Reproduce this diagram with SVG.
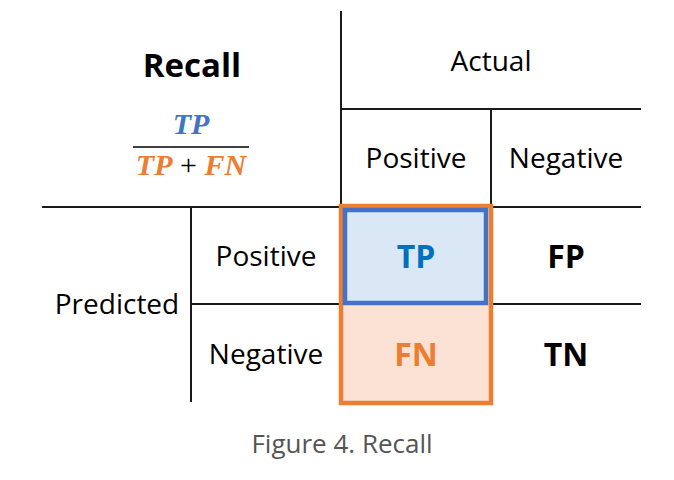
<svg xmlns="http://www.w3.org/2000/svg" width="674" height="480" viewBox="0 0 674 480">
  <style>
    .grid { stroke: #1a1a1a; stroke-width: 2; fill: none; }
    .lbl { font-family: "Open Sans", "Liberation Sans", sans-serif; font-size: 28px; fill: #000; text-anchor: middle; }
    .cell { font-family: "Open Sans", "Liberation Sans", sans-serif; font-size: 32px; font-weight: bold; text-anchor: middle; }
    .math { font-family: "Liberation Serif", "DejaVu Serif", serif; font-size: 30px; font-weight: bold; font-style: italic; }
    .op { font-family: "Liberation Serif", "DejaVu Serif", serif; font-size: 30px; }
    .caption { font-family: "Open Sans", "Liberation Sans", sans-serif; font-size: 26px; fill: #555; text-anchor: middle; }
  </style>
  <rect width="674" height="480" fill="#fff"/>

  <!-- table rules -->
  <g id="connectors">
    <line class="grid" x1="341" y1="11" x2="341" y2="207"/>
    <line class="grid" x1="341" y1="109" x2="641" y2="109"/>
    <line class="grid" x1="491" y1="109" x2="491" y2="207"/>
    <line class="grid" x1="42" y1="207" x2="641" y2="207"/>
    <line class="grid" x1="191" y1="207" x2="191" y2="402"/>
    <line class="grid" x1="191" y1="304" x2="641" y2="304"/>
  </g>

  <!-- title and formula -->
  <g id="title">
    <text x="192" y="77" style="font-family:'Open Sans','Liberation Sans',sans-serif;font-size:33px;font-weight:bold;text-anchor:middle">Recall</text>
  </g>
  <g id="formula">
    <text class="math" x="191" y="134" text-anchor="middle" fill="#4472C4">TP</text>
    <line x1="133" y1="147" x2="249" y2="147" stroke="#000" stroke-width="1.5"/>
    <text x="191" y="175" text-anchor="middle"><tspan class="math" fill="#ED7D31">TP</tspan><tspan class="op" fill="#000"> + </tspan><tspan class="math" fill="#ED7D31">FN</tspan></text>
  </g>

  <!-- headers -->
  <g id="actual"><text class="lbl" x="491" y="71">Actual</text></g>
  <g id="actual-positive"><text class="lbl" x="416" y="168">Positive</text></g>
  <g id="actual-negative"><text class="lbl" x="566" y="168">Negative</text></g>
  <g id="predicted"><text class="lbl" x="117" y="314">Predicted</text></g>
  <g id="predicted-positive"><text class="lbl" x="266" y="266">Positive</text></g>
  <g id="predicted-negative"><text class="lbl" x="266" y="364">Negative</text></g>

  <!-- highlighted cells -->
  <g id="fn-box">
    <rect x="341" y="206" width="150" height="197" fill="#FBE2D4" stroke="#ED7D31" stroke-width="4.5"/>
    <text class="cell" x="416" y="366" fill="#ED7D31">FN</text>
  </g>
  <g id="tp-box">
    <rect x="345" y="210" width="141" height="93" fill="#DAE7F5" stroke="#4472C4" stroke-width="4.5"/>
    <text class="cell" x="416" y="268" fill="#0070C0">TP</text>
  </g>

  <g id="fp"><text class="cell" x="566" y="268" fill="#000">FP</text></g>
  <g id="tn"><text class="cell" x="566" y="366" fill="#000">TN</text></g>

  <g id="caption"><text class="caption" x="342" y="453">Figure 4. Recall</text></g>
</svg>
